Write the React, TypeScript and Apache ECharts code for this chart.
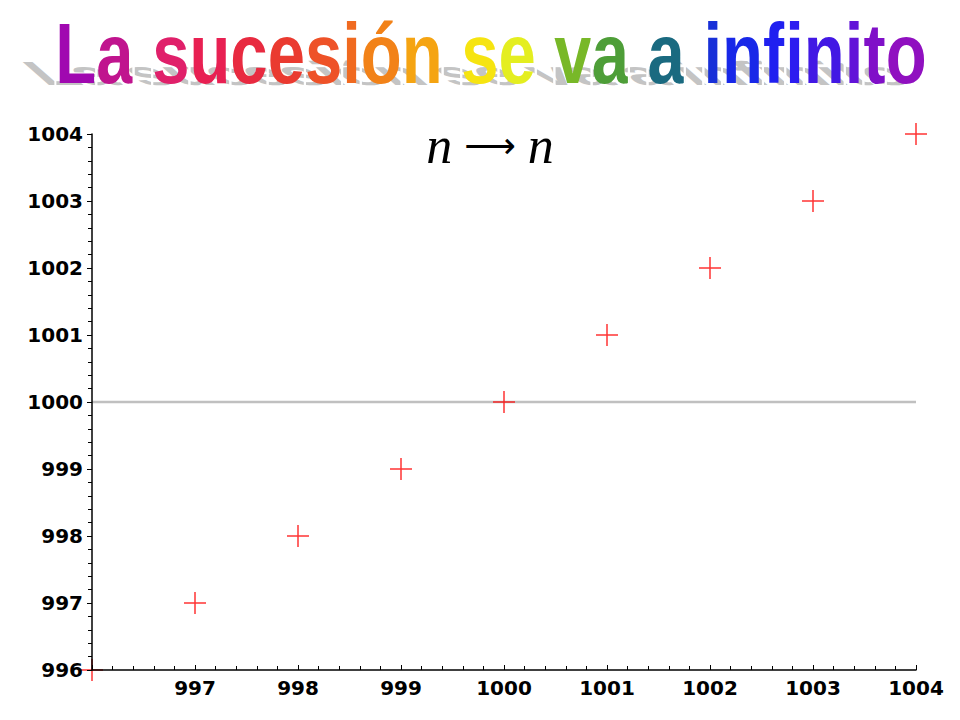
import React, { useEffect, useRef } from "react";
import * as echarts from "echarts";

const titleText = "La sucesión se va a infinito";
const titleColors = [
  "#a008b0", "#c0148e", "#ffffff", "#e0206a", "#e82052", "#e82a40", "#ea3a30", "#ee5228",
  "#f06a20", "#f28218", "#f5a412", "#ffffff", "#f6e410", "#e4ee20", "#ffffff", "#78b828",
  "#4e9e38", "#ffffff", "#1a6a80", "#ffffff", "#1830d8", "#1828e8", "#2020f0", "#2c1cf0",
  "#4218e4", "#6214d8", "#8010c8", "#9010c0",
];
const formulaVar = "n";
const nValues = [996, 997, 998, 999, 1000, 1001, 1002, 1003, 1004];
const aValues = [996, 997, 998, 999, 1000, 1001, 1002, 1003, 1004];
const axisMin = 996;
const axisMax = 1004;
const limitValue = 1000;

export default function App() {
  const ref = useRef<HTMLDivElement>(null);
  useEffect(() => {
    if (!ref.current) return;
    const chart = echarts.init(ref.current, undefined, { renderer: "svg" });
    const labelFont = {
      fontFamily: "DejaVu Sans",
      fontWeight: "bold" as const,
      fontSize: 20,
      color: "#000",
    };
    const chars = Array.from(titleText);
    const rich: Record<string, any> = {};
    let richText = "";
    chars.forEach((ch, i) => {
      rich["c" + i] = {
        fontFamily: "Liberation Sans",
        fontWeight: "bold",
        fontSize: 67,
        fill: titleColors[i] || "#000",
        textBorderColor: "#ffffff",
        textBorderWidth: 2,
      };
      richText += `{c${i}|${ch}}`;
    });
    chart.setOption({
      animation: false,
      backgroundColor: "#fff",
      grid: { left: 92, right: 44, top: 134, bottom: 50 },
      graphic: [
        {
          type: "text",
          x: 486,
          y: 90,
          scaleY: 0.5,
          skewX: 0.85,
          z: 1,
          style: {
            text: titleText,
            x: 0,
            y: 0,
            align: "center",
            verticalAlign: "bottom",
            fontFamily: "Liberation Sans",
            fontWeight: "bold",
            fontSize: 67,
            fill: "#c4c4c4",
          },
        },
        {
          type: "text",
          x: 491,
          y: 96,
          scaleY: 1.27,
          z: 2,
          style: {
            text: richText,
            x: 0,
            y: 0,
            align: "center",
            verticalAlign: "bottom",
            rich,
          },
        },
        {
          type: "text",
          x: 490,
          y: 145,
          z: 5,
          style: {
            text: `{i|${formulaVar}}{a|⟶}{i|${formulaVar}}`,
            align: "center",
            verticalAlign: "middle",
            rich: {
              i: {
                fontFamily: "Liberation Serif",
                fontStyle: "italic",
                fontSize: 52,
                fill: "#000",
              },
              a: {
                fontFamily: "DejaVu Sans",
                fontSize: 36,
                fill: "#000",
                padding: [0, 12, 0, 12],
              },
            },
          },
        },
      ],
      xAxis: {
        type: "value",
        min: axisMin,
        max: axisMax,
        interval: 1,
        z: 5,
        splitLine: { show: false },
        axisLine: { lineStyle: { color: "#000", width: 1.5 } },
        axisTick: { inside: true, length: 5, lineStyle: { color: "#000", width: 1 } },
        minorTick: { show: true, splitNumber: 5, length: 4, lineStyle: { color: "#000", width: 1 } },
        axisLabel: { ...labelFont, margin: 8, showMinLabel: false, formatter: (v: number) => String(v) },
      },
      yAxis: {
        type: "value",
        min: axisMin,
        max: axisMax,
        interval: 1,
        z: 5,
        splitLine: { show: false },
        axisLine: { lineStyle: { color: "#000", width: 1.5 } },
        axisTick: { inside: false, length: 5, lineStyle: { color: "#000", width: 1 } },
        minorTick: { show: true, splitNumber: 5, length: 4, lineStyle: { color: "#000", width: 1 } },
        axisLabel: { ...labelFont, margin: 9, formatter: (v: number) => String(v) },
      },
      series: [
        {
          type: "line",
          z: 1,
          silent: true,
          symbol: "none",
          data: [
            [axisMin, limitValue],
            [axisMax, limitValue],
          ],
          lineStyle: { color: "#c0c0c0", width: 2.5 },
        },
        {
          type: "scatter",
          z: 3,
          data: nValues.map((n, i) => [n, aValues[i]]),
          symbol: "path://M0,11L22,11M11,0L11,22",
          symbolSize: 22,
          clip: false,
          itemStyle: { color: "transparent", borderColor: "#ff0000", borderWidth: 1.5 },
        },
      ],
    });
    return () => chart.dispose();
  }, []);
  return (
    <div
      ref={ref}
      style={{ position: "fixed", left: 0, top: 0, width: 960, height: 720 }}
    />
  );
}
